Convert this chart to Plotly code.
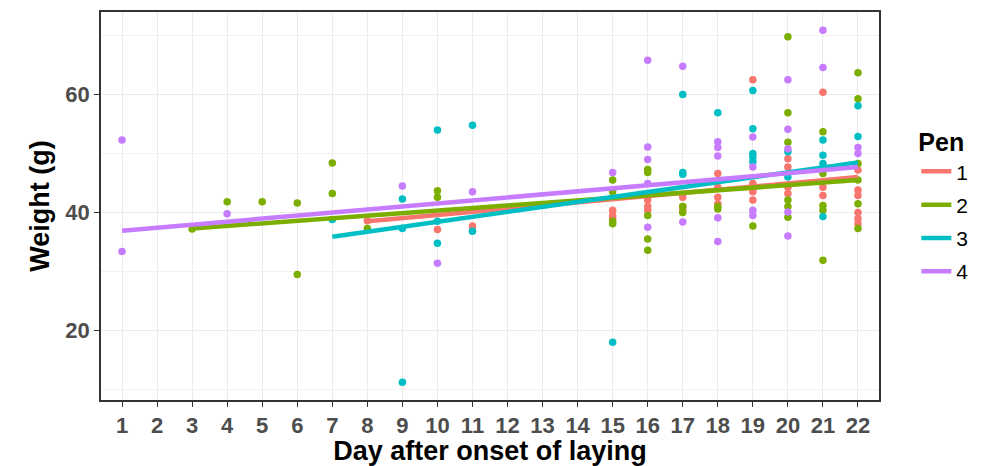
import plotly.graph_objects as go

pens = ["1", "2", "3", "4"]
colors = ["#F8766D", "#7CAE00", "#00BFC4", "#C77CFF"]

pen1_days = [8, 10, 11, 11, 15, 15, 15, 16, 16, 16, 17, 17, 17, 18, 18, 18, 18,
             19, 19, 19, 19, 20, 20, 20, 20, 21, 21, 21, 22, 22, 22, 22, 22, 22]
pen1_weight = [38.6, 37.1, 37.7, 36.9, 40.4, 39.5, 39.0, 42.1, 41.0, 40.4, 42.6, 41.0, 40.4,
               46.6, 44.3, 42.6, 41.5, 62.5, 44.9, 43.5, 42.1, 49.1, 47.7, 44.3, 43.2,
               60.4, 44.3, 42.9, 47.2, 43.8, 42.9, 40.0, 39.0, 38.1]

pen2_days = [3, 4, 5, 6, 6, 7, 7, 8, 10, 10, 15, 15, 15, 15, 16, 16, 16, 16, 16,
             17, 17, 18, 18, 19, 20, 20, 20, 20, 20, 20, 21, 21, 21, 21, 21,
             22, 22, 22, 22, 22, 22]
pen2_weight = [37.2, 41.8, 41.8, 41.6, 29.5, 48.4, 43.2, 37.3, 43.7, 42.6,
               45.5, 43.5, 38.1, 38.5, 47.3, 46.8, 39.5, 35.5, 33.6,
               40.0, 41.0, 40.6, 41.0, 37.7, 69.8, 56.9, 51.9, 42.1, 41.0, 39.2,
               53.7, 46.6, 41.2, 40.4, 31.9, 63.7, 59.3, 48.3, 45.5, 41.5, 37.3]

pen3_days = [7, 9, 9, 9, 10, 10, 10, 11, 11, 15, 17, 17, 17, 18, 19, 19, 19, 19, 19,
             20, 20, 21, 21, 21, 21, 22, 22]
pen3_weight = [38.8, 42.3, 37.3, 11.2, 54.0, 38.5, 34.8, 54.8, 36.8, 18.0, 60.0, 46.8, 46.5,
               56.9, 60.7, 54.2, 50.0, 49.4, 48.6, 50.3, 46.0, 52.3, 49.7, 48.3, 39.3,
               58.1, 52.9]

pen4_days = [1, 1, 4, 9, 10, 11, 15, 16, 16, 16, 16, 16, 17, 17, 18, 18, 18, 18, 18,
             19, 19, 19, 19, 20, 20, 20, 20, 20, 21, 21, 22, 22]
pen4_weight = [52.3, 33.4, 39.8, 44.5, 31.4, 43.5, 46.8, 65.8, 51.1, 49.0, 44.9, 37.5,
               64.8, 38.4, 52.0, 51.0, 49.6, 39.1, 35.1, 52.8, 47.7, 40.4, 39.5,
               62.5, 54.1, 50.8, 40.1, 36.0, 70.9, 64.6, 51.0, 50.0]

# fitted linear trend per pen (first/last day and fitted weight)
fit_days = [[8, 22], [3, 22], [7, 22], [1, 22]]
fit_weight = [[38.5, 46.0], [37.3, 45.5], [35.9, 48.5], [36.9, 47.7]]

day_ticks = list(range(1, 23))
weight_ticks = [20, 40, 60]
weight_minor = [10, 30, 50, 70]

all_days = [pen1_days, pen2_days, pen3_days, pen4_days]
all_weight = [pen1_weight, pen2_weight, pen3_weight, pen4_weight]

fig = go.Figure()
for i, p in enumerate(pens):
    fig.add_trace(go.Scatter(
        x=all_days[i], y=all_weight[i], mode="markers",
        marker=dict(color=colors[i], size=7.5, line=dict(width=0)),
        showlegend=False, legendgroup=p, name=p))
for i, p in enumerate(pens):
    fig.add_trace(go.Scatter(
        x=fit_days[i], y=fit_weight[i], mode="lines",
        line=dict(color=colors[i], width=4.5),
        showlegend=True, legendgroup=p, name=p))

tick_font = dict(family="Liberation Sans, Arial", size=22, color="#4D4D4D")
title_font = dict(family="Liberation Sans, Arial", size=27, color="black")

fig.update_layout(
    width=984, height=466,
    margin=dict(l=101, r=105, t=12, b=66, autoexpand=False),
    paper_bgcolor="white", plot_bgcolor="white",
    font=dict(family="Liberation Sans, Arial"),
    legend=dict(
        title=dict(text="<b>Pen</b>", font=dict(size=25, color="black")),
        font=dict(size=21, color="black"),
        x=1.048, xanchor="left", y=0.725, yanchor="top",
        tracegroupgap=3, bgcolor="rgba(0,0,0,0)", itemwidth=30,
    ),
)
fig.update_xaxes(
    range=[0.4, 22.6], tickmode="array", tickvals=day_ticks,
    ticktext=[f"<b>{d}</b>" for d in day_ticks], tickfont=tick_font,
    ticks="outside", ticklen=5, tickcolor="#333333", tickwidth=1.2,
    showgrid=True, gridcolor="#EBEBEB", gridwidth=1,
    showline=True, linecolor="#333333", linewidth=1.5, mirror=True,
    zeroline=False, automargin=False,
    title=dict(text="<b>Day after onset of laying</b>", font=title_font, standoff=2),
)
fig.update_yaxes(
    range=[8.2, 74], tickmode="array", tickvals=weight_ticks,
    ticktext=[f"<b>{w}</b>" for w in weight_ticks], tickfont=tick_font,
    ticks="outside", ticklen=5, tickcolor="#333333", tickwidth=1.2,
    showgrid=True, gridcolor="#EBEBEB", gridwidth=1,
    minor=dict(tickvals=weight_minor, showgrid=True, gridcolor="#F2F2F2", gridwidth=0.8, ticks=""),
    showline=True, linecolor="#333333", linewidth=1.5, mirror=True,
    zeroline=False, automargin=False,
    title=dict(text="<b>Weight (g)</b>", font=title_font, standoff=8),
)

fig.write_html("out.html")
